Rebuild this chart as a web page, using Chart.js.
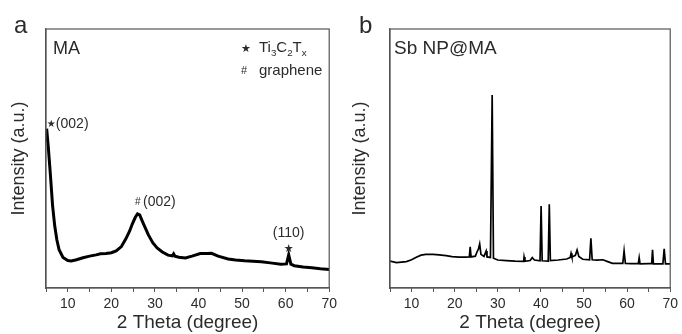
<!DOCTYPE html>
<html>
<head>
<meta charset="utf-8">
<script src="https://cdn.jsdelivr.net/npm/chart.js@4.4.0/dist/chart.umd.min.js"></script>
<style>
  body { margin: 0; background: #fff; }
  #wrap { display: flex; width: 682px; height: 334px; }
  canvas { display: block; }
</style>
</head>
<body>
<div id="wrap">
  <canvas id="chartA" width="341" height="334"></canvas>
  <canvas id="chartB" width="341" height="334"></canvas>
</div>
<script>
// tick labels on the 2 theta axis
const xTicks = [10, 20, 30, 40, 50, 60, 70];

// panel a: MA
const maTheta = [5.0, 5.15, 5.5, 6.0, 6.5, 7.0, 7.5, 8.0, 8.9, 10.0, 10.8, 12.0, 13.5, 15.0, 16.5, 17.5,
  18.8, 20.0, 21.1, 22.3, 23.3, 24.2, 24.8, 25.5, 26.0, 26.5, 27.0, 27.5, 28.5, 29.5, 30.5, 31.7, 33.0,
  34.0, 34.3, 34.6, 35.5, 37.0, 38.5, 40.4, 42.0, 43.0, 44.5, 46.8, 48.5, 50.6, 52.5, 54.4, 56.5, 58.9,
  60.2, 60.7, 61.2, 62.0, 64.0, 66.0, 68.0, 70.0];
const maIntensity = [57, 61.5, 55, 44, 32, 24, 18.5, 14.8, 11.8, 10.6, 10.4, 10.9, 11.7, 12.3, 12.8, 13.2,
  13.3, 13.6, 14.3, 16.0, 18.9, 22.0, 24.7, 27.3, 28.6, 28.2, 26.2, 24.3, 20.5, 17.5, 15.5, 13.9, 12.7,
  12.4, 13.2, 12.3, 11.9, 11.6, 12.3, 13.3, 13.3, 13.4, 12.3, 11.2, 10.8, 10.5, 10.3, 10.1, 9.7, 9.2,
  9.3, 12.8, 9.2, 8.6, 8.1, 7.8, 7.4, 7.1];

// panel b: Sb NP@MA
const sbTheta = [5.0, 6.5, 8.8, 10.0, 11.1, 12.2, 13.3, 15.0, 16.4, 18.0, 19.4, 21.0, 22.4, 23.4, 23.6, 23.8,
  24.8, 25.2, 25.5, 25.8, 26.1, 26.8, 27.3, 27.5, 28.3, 28.7, 29.0, 30.0, 32.0, 34.0, 36.0, 36.1, 36.3,
  37.5, 38.0, 38.5, 39.8, 40.05, 40.3, 41.7, 41.95, 42.2, 44.0, 46.0, 46.8, 47.0, 47.2, 48.0, 48.4, 48.8,
  49.7, 51.3, 51.6, 51.9, 53.0, 54.4, 55.5, 56.6, 59.0, 59.3, 59.6, 61.0, 62.6, 62.8, 63.0, 65.0, 65.7,
  65.9, 66.1, 68.3, 68.6, 68.9, 70.0];
const sbIntensity = [10.4, 9.8, 10.2, 10.9, 11.9, 12.7, 13.0, 13.0, 12.8, 12.5, 12.1, 11.9, 11.9, 12.0, 15.9, 12.0,
  12.3, 14.0, 15.0, 17.0, 13.0, 12.2, 14.3, 12.0, 11.8, 74.5, 11.5, 10.8, 10.6, 10.4, 10.3, 12.0, 10.3,
  10.6, 11.7, 10.8, 10.5, 31.7, 10.5, 10.4, 32.3, 10.6, 10.8, 11.2, 11.8, 13.4, 12.0, 12.6, 14.7, 12.2,
  11.1, 10.9, 19.2, 10.9, 10.8, 10.9, 10.2, 9.5, 9.5, 14.3, 9.5, 9.4, 9.4, 11.7, 9.3, 9.4, 9.4,
  14.7, 9.3, 9.3, 15.1, 9.3, 9.3];

const FONT = "'Liberation Sans', Arial, 'DejaVu Sans', sans-serif";
const TEXT = '#2b2b2b';
const FRAME = '#555';

Chart.defaults.font.family = FONT;
Chart.defaults.color = TEXT;

function toPoints(xs, ys) {
  return xs.map((x, i) => ({ x: x, y: ys[i] }));
}

// draw text pieces, some as subscripts
function drawParts(ctx, parts, x, y, size) {
  parts.forEach(p => {
    const s = p[1] ? size * 0.65 : size;
    ctx.font = s + 'px ' + FONT;
    ctx.fillText(p[0], x, y + (p[1] ? size * 0.28 : 0));
    x += ctx.measureText(p[0]).width;
  });
}

const frame = {
  id: 'frame',
  afterDatasetsDraw(chart) {
    const { ctx, chartArea: a } = chart;
    ctx.save();
    ctx.strokeStyle = FRAME;
    ctx.lineWidth = 1.2;
    ctx.strokeRect(a.left, a.top, a.right - a.left, a.bottom - a.top);
    ctx.restore();
  }
};

const notesA = {
  id: 'notesA',
  afterDraw(chart) {
    const { ctx, chartArea: a, scales: { x, y } } = chart;
    ctx.save();
    ctx.fillStyle = TEXT;
    ctx.textBaseline = 'alphabetic';
    ctx.font = '24px ' + FONT;
    ctx.fillText('a', 14, 33);
    ctx.font = '18px ' + FONT;
    ctx.fillText('MA', a.left + 7, a.top + 25);
    // legend
    ctx.font = '11px ' + FONT;
    ctx.fillText('\u2605', a.left + 195, a.top + 23);
    drawParts(ctx, [['Ti', 0], ['3', 1], ['C', 0], ['2', 1], ['T', 0], ['x', 1]], a.left + 213, a.top + 23, 15);
    ctx.font = '11px ' + FONT;
    ctx.fillText('#', a.left + 195, a.top + 45);
    ctx.font = '15px ' + FONT;
    ctx.fillText('graphene', a.left + 213, a.top + 46);
    // peak labels
    ctx.font = '10px ' + FONT;
    ctx.fillText('\u2605', x.getPixelForValue(5.2), y.getPixelForValue(61.5) - 2);
    ctx.font = '14px ' + FONT;
    ctx.fillText('(002)', x.getPixelForValue(5.2) + 9, y.getPixelForValue(61.5) - 1);
    ctx.font = '10px ' + FONT;
    ctx.fillText('#', x.getPixelForValue(25.9) - 2, y.getPixelForValue(28.6) - 9);
    ctx.font = '14px ' + FONT;
    ctx.fillText('(002)', x.getPixelForValue(25.9) + 6, y.getPixelForValue(28.6) - 8);
    ctx.textAlign = 'center';
    ctx.fillText('(110)', x.getPixelForValue(60.7), y.getPixelForValue(12.8) - 18);
    ctx.font = '11px ' + FONT;
    ctx.fillText('\u2605', x.getPixelForValue(60.7), y.getPixelForValue(12.8) - 3);
    ctx.restore();
  }
};

const notesB = {
  id: 'notesB',
  afterDraw(chart) {
    const { ctx, chartArea: a } = chart;
    ctx.save();
    ctx.fillStyle = TEXT;
    ctx.font = '24px ' + FONT;
    ctx.fillText('b', 18, 33);
    ctx.font = '19px ' + FONT;
    ctx.fillText('Sb NP@MA', a.left + 4, a.top + 25);
    ctx.restore();
  }
};

function makeChart(id, theta, intensity, yWidth, rightPad, lineWidth, notes) {
  return new Chart(document.getElementById(id), {
    type: 'line',
    data: {
      datasets: [{
        data: toPoints(theta, intensity),
        borderColor: '#000',
        borderWidth: lineWidth,
        pointRadius: 0,
        tension: 0,
        fill: false
      }]
    },
    options: {
      responsive: false,
      animation: false,
      devicePixelRatio: 1,
      layout: { padding: { top: 29, right: rightPad, bottom: 0, left: 0 } },
      plugins: { legend: { display: false }, tooltip: { enabled: false } },
      scales: {
        x: {
          type: 'linear',
          min: 5,
          max: 70,
          afterFit: s => { s.height = 46; },
          ticks: {
            stepSize: 5,
            autoSkip: false,
            maxRotation: 0,
            padding: 4,
            color: TEXT,
            font: { size: 14 },
            callback: v => (xTicks.includes(v) ? v : '')
          },
          grid: { drawOnChartArea: false, tickLength: 4, color: FRAME },
          border: { color: FRAME, width: 1.2 },
          title: {
            display: true,
            text: '2 Theta (degree)',
            color: TEXT,
            font: { size: 19 },
            padding: { top: 0, bottom: 0 }
          }
        },
        y: {
          min: 0,
          max: 100,
          afterFit: s => { s.width = yWidth; },
          ticks: { display: false },
          grid: { display: false },
          border: { color: FRAME, width: 1.2 },
          title: {
            display: true,
            text: 'Intensity (a.u.)',
            color: TEXT,
            font: { size: 18 },
            padding: { top: 8, bottom: 0 }
          }
        }
      }
    },
    plugins: [frame, notes]
  });
}

makeChart('chartA', maTheta, maIntensity, 46, 9, 3, notesA);
makeChart('chartB', sbTheta, sbIntensity, 49, 6, 1.7, notesB);
</script>
</body>
</html>
